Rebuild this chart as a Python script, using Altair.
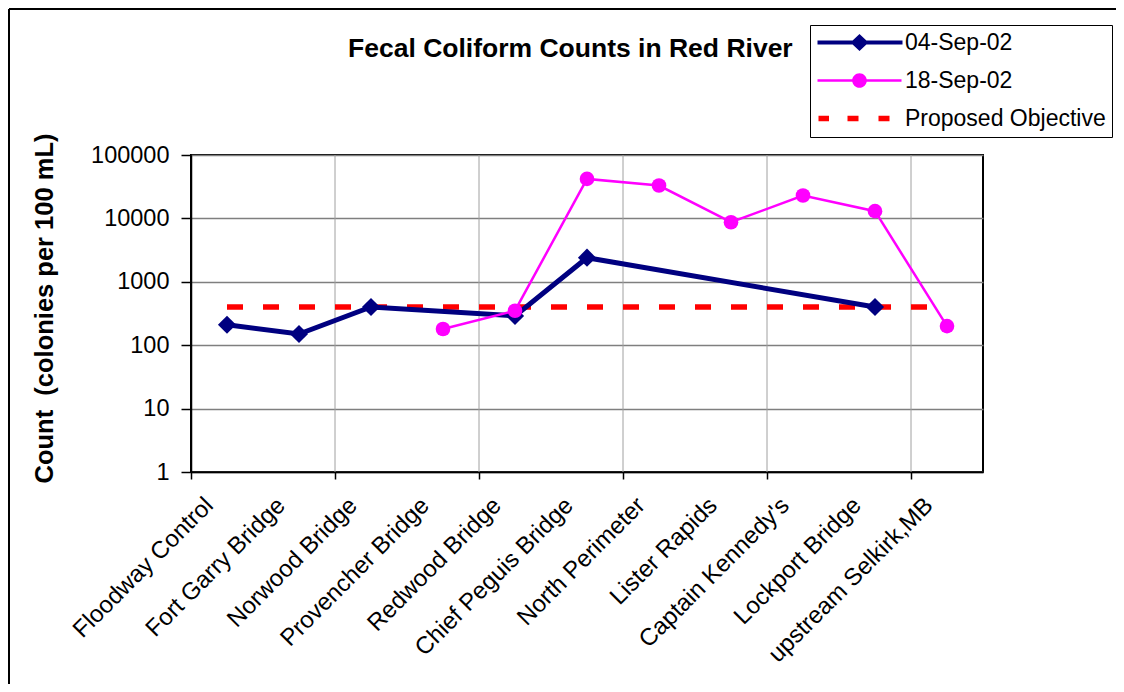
import altair as alt
import pandas as pd

categories = ["Floodway Control", "Fort Garry Bridge", "Norwood Bridge", "Provencher Bridge",
              "Redwood Bridge", "Chief Peguis Bridge", "North Perimeter", "Lister Rapids",
              "Captain Kennedy's", "Lockport Bridge", "upstream Selkirk,MB"]
sep04 = [210, 150, 400, None, 290, 2400, None, None, None, 400, None]
sep18 = [None, None, None, 180, 350, 42000, 33000, 8700, 23000, 13000, 200]
objective = [400, 400, 400, 400, 400, 400, 400, 400, 400, 400, 400]
series_names = ["04-Sep-02", "18-Sep-02", "Proposed Objective"]
series_colors = ["#000080", "#FF00FF", "#FF0000"]
y_ticks = [1, 10, 100, 1000, 10000, 100000]
grid_cats = ["Norwood Bridge", "Redwood Bridge", "North Perimeter", "Captain Kennedy's", "upstream Selkirk,MB"]
tick_cats = ["Floodway Control", "Norwood Bridge", "Redwood Bridge", "North Perimeter",
             "Captain Kennedy's", "upstream Selkirk,MB"]

FONT = "Liberation Sans"

# legend symbols: line + marker drawn as filled paths
legend_shapes = [
    "M-1,-0.2H7.5V0.2H-1Z M3.2,-0.85L4.1,0L3.2,0.85L2.3,0Z",
    "M-1,-0.12H7.4V0.12H-1Z M2.47,0A0.73,0.73 0 1,1 3.93,0A0.73,0.73 0 1,1 2.47,0Z",
    "M-0.9,-0.28H0.15V0.28H-0.9Z M2,-0.28H3.1V0.28H2Z M5.1,-0.28H6.2V0.28H5.1Z",
]

idx = list(range(len(categories)))
df04 = pd.DataFrame({"site": categories, "count": sep04, "idx": idx}).dropna()
df18 = pd.DataFrame({"site": categories, "count": sep18, "idx": idx}).dropna()
dfobj = pd.DataFrame({"site": categories, "count": objective, "idx": idx})
dfgrid = pd.DataFrame({"site": grid_cats})
dfleg = pd.DataFrame({"series": series_names})
dfframe = pd.DataFrame({"k": [0]})

xscale = alt.Scale(type="band", domain=categories, paddingInner=0, paddingOuter=0)
yscale = alt.Scale(type="log", domain=[1, 100000], nice=False)

x_axis = alt.Axis(orient="bottom", title=None, labelAngle=-45, labelAlign="right", labelBaseline="top",
                  labelFont=FONT, labelFontSize=24, labelColor="black", labelPadding=21,
                  labelOffset=-26, labelLimit=400, ticks=False, grid=False,
                  domainColor="black", domainWidth=1.5)
y_axis = alt.Axis(orient="left", values=y_ticks, format="d", title="Count \u00a0(colonies per 100 mL)",
                  titleFont=FONT, titleFontSize=25.5, titleFontWeight="bold", titleColor="black",
                  titleAngle=-90, titleX=-139, titleY=153, titleAlign="center",
                  titleBaseline="alphabetic",
                  labelFont=FONT, labelFontSize=23.5, labelColor="black", labelPadding=12,
                  tickSize=10, tickColor="black", tickWidth=1.5,
                  domainColor="black", domainWidth=1.5,
                  grid=True, gridColor="#7f7f7f", gridWidth=1.5)

X = alt.X("site:N", scale=xscale, axis=x_axis)
Y = alt.Y("count:Q", scale=yscale, axis=y_axis)
O = alt.Order("idx:Q")

obj_line = alt.Chart(dfobj).mark_line(color="#FF0000", strokeWidth=5.5, strokeDash=[16, 20]).encode(x=X, y=Y, order=O)
navy_line = alt.Chart(df04).mark_line(color="#000080", strokeWidth=5).encode(x=X, y=Y, order=O)
navy_pts = alt.Chart(df04).mark_point(shape="diamond", filled=True, size=330, color="#000080", opacity=1).encode(x=X, y=Y)
pink_line = alt.Chart(df18).mark_line(color="#FF00FF", strokeWidth=2.5).encode(x=X, y=Y, order=O)
pink_pts = alt.Chart(df18).mark_point(shape="circle", filled=True, size=215, color="#FF00FF", opacity=1).encode(x=X, y=Y)

data_layer = alt.layer(obj_line, navy_line, navy_pts, pink_line, pink_pts)

grid_rules = alt.Chart(dfgrid).mark_rule(color="#a0a0a0", strokeWidth=1).encode(
    x=alt.X("site:N", scale=xscale, bandPosition=0,
            axis=alt.Axis(orient="bottom", values=tick_cats, bandPosition=0, labels=False, ticks=True,
                          tickSize=7, tickColor="black", tickWidth=1.5, domain=False, grid=False,
                          title=None))
)

frame_left = alt.Chart(dfframe).mark_rule(color="black", strokeWidth=2).encode(
    x=alt.value(-182), y=alt.value(-146), y2=alt.value(600))
frame_top = alt.Chart(dfframe).mark_rule(color="black", strokeWidth=2).encode(
    x=alt.value(-182), x2=alt.value(1100), y=alt.value(-146))

leg = alt.Legend(title=None, orient="none", legendX=619, legendY=-130, direction="vertical",
                 labelFont=FONT, labelFontSize=23, labelColor="black", labelOffset=66,
                 labelLimit=400, symbolSize=400, symbolOpacity=1, symbolStrokeWidth=0,
                 rowPadding=14, padding=6, strokeColor="black", fillColor="white")
legend_layer = alt.Chart(dfleg).mark_point(filled=True, size=400).encode(
    color=alt.Color("series:N", scale=alt.Scale(domain=series_names, range=series_colors), legend=leg),
    shape=alt.Shape("series:N", scale=alt.Scale(domain=series_names, range=legend_shapes), legend=leg),
    opacity=alt.value(0),
)

chart = alt.layer(frame_left, frame_top, grid_rules, data_layer, legend_layer).resolve_axis(
    x="independent"
).properties(
    width=792, height=317,
    title=alt.TitleParams("Fecal Coliform Counts in Red River", font=FONT, fontSize=26.5,
                          fontWeight="bold", color="black", anchor="start", frame="group",
                          dx=157, offset=-75, baseline="alphabetic"),
    autosize=alt.AutoSizeParams(type="none"),
    padding={"left": 183, "top": 147, "right": 133, "bottom": 212},
    background="white",
).configure_view(stroke="black", strokeWidth=2)

chart.save("out.html", embed_options={"renderer": "svg", "actions": False})
